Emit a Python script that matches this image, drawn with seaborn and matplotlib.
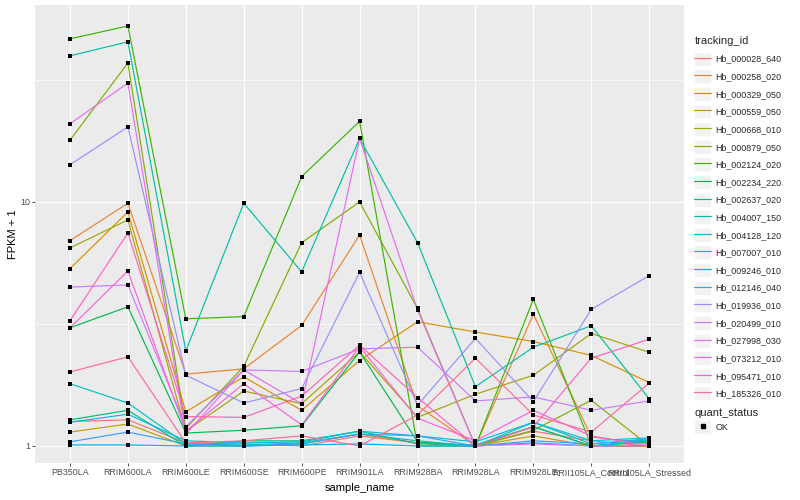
import numpy as np
import pandas as pd
import matplotlib
matplotlib.use('Agg')
import matplotlib.pyplot as plt
import seaborn as sns
from matplotlib.lines import Line2D
from matplotlib.patches import Rectangle
from matplotlib.legend_handler import HandlerLine2D
from matplotlib.ticker import FixedLocator, NullFormatter

samples = ['PB350LA', 'RRIM600LA', 'RRIM600LE', 'RRIM600SE', 'RRIM600PE', 'RRIM901LA',
           'RRIM928BA', 'RRIM928LA', 'RRIM928LE', 'RRII105LA_Control', 'RRII105LA_Stressed']

genes = ['Hb_000028_640', 'Hb_000258_020', 'Hb_000329_050', 'Hb_000559_050', 'Hb_000668_010',
         'Hb_000879_050', 'Hb_002124_020', 'Hb_002234_220', 'Hb_002637_020', 'Hb_004007_150',
         'Hb_004128_120', 'Hb_007007_010', 'Hb_009246_010', 'Hb_012146_040', 'Hb_019936_010',
         'Hb_020499_010', 'Hb_027998_030', 'Hb_073212_010', 'Hb_095471_010', 'Hb_185326_010']

# FPKM + 1 per gene, one value per sample
v_000028 = [1.26, 1.28, 1.03, 1.02, 1.00, 1.10, 1.03, 1.00, 1.15, 1.05, 1.00]
v_000258 = [6.94, 9.88, 1.97, 2.07, 3.12, 7.32, 1.46, 1.00, 3.47, 1.09, 1.02]
v_000329 = [5.33, 9.10, 1.38, 1.92, 1.40, 2.24, 3.23, 2.93, 2.68, 2.35, 1.82]
v_000559 = [1.14, 1.23, 1.00, 1.00, 1.02, 1.12, 1.03, 1.00, 1.10, 1.00, 1.00]
v_000668 = [6.48, 8.44, 1.15, 1.68, 1.49, 2.43, 1.31, 1.63, 1.95, 2.89, 2.42]
v_000879 = [17.9, 37.1, 1.18, 2.12, 6.81, 10.0, 3.66, 1.00, 1.16, 1.54, 1.00]
v_002124 = [46.6, 52.6, 3.32, 3.39, 12.7, 21.4, 1.00, 1.00, 3.99, 1.00, 1.00]
v_002234 = [3.05, 3.72, 1.13, 1.16, 1.21, 2.43, 1.04, 1.00, 1.20, 1.00, 1.05]
v_002637 = [1.28, 1.40, 1.00, 1.05, 1.05, 1.15, 1.02, 1.01, 1.20, 1.00, 1.04]
v_004007 = [39.7, 45.3, 2.45, 9.88, 5.17, 18.2, 6.81, 1.75, 2.54, 3.11, 1.56]
v_004128 = [1.80, 1.50, 1.02, 1.01, 1.03, 1.12, 1.05, 1.00, 1.25, 1.02, 1.06]
v_007007 = [1.25, 1.35, 1.05, 1.03, 1.04, 1.15, 1.10, 1.04, 1.25, 1.05, 1.08]
v_009246 = [1.01, 1.01, 1.00, 1.00, 1.01, 1.02, 1.00, 1.00, 1.03, 1.00, 1.05]
v_012146 = [1.04, 1.14, 1.02, 1.00, 1.02, 1.12, 1.10, 1.00, 1.05, 1.02, 1.07]
v_019936 = [14.2, 20.3, 1.95, 1.50, 1.72, 5.15, 1.47, 2.76, 1.52, 3.63, 4.99]
v_020499 = [4.48, 4.57, 1.20, 2.05, 2.02, 2.50, 2.54, 1.53, 1.59, 1.40, 1.53]
v_027998 = [20.9, 30.7, 1.12, 2.05, 1.49, 18.2, 3.61, 1.00, 1.02, 1.00, 1.00]
v_073212 = [3.05, 5.21, 1.15, 1.80, 1.22, 2.55, 1.30, 1.05, 1.40, 1.10, 1.00]
v_095471 = [3.26, 7.46, 1.32, 1.31, 1.60, 2.59, 1.58, 1.00, 1.20, 2.29, 2.74]
v_185326 = [2.01, 2.32, 1.03, 1.05, 1.10, 1.00, 1.34, 2.29, 1.34, 1.14, 1.81]

values = [v_000028, v_000258, v_000329, v_000559, v_000668, v_000879, v_002124, v_002234,
          v_002637, v_004007, v_004128, v_007007, v_009246, v_012146, v_019936, v_020499,
          v_027998, v_073212, v_095471, v_185326]

# ggplot2 default hue palette, 20 levels
colors = ['#F8766D', '#EA8331', '#D89000', '#C09B00', '#A3A500', '#7CAE00', '#39B600',
          '#00BB4E', '#00BF7D', '#00C1A3', '#00BFC4', '#00BAE0', '#00B0F6', '#35A2FF',
          '#9590FF', '#C77CFF', '#E76BF3', '#FA62DB', '#FF62BC', '#FF6C91']

rows = []
for g, vals in zip(genes, values):
    for s, v in zip(samples, vals):
        rows.append((g, s, v, 'OK'))
df = pd.DataFrame(rows, columns=['tracking_id', 'sample_name', 'fpkm1', 'quant_status'])

sns.set_theme(style='darkgrid')
plt.rcParams['font.family'] = ['Liberation Sans', 'DejaVu Sans']
plt.rcParams['axes.facecolor'] = '#EBEBEB'

fig = plt.figure(figsize=(8, 5), dpi=100)
ax = fig.add_axes([0.044, 0.074, 0.811, 0.916])

sns.lineplot(data=df, x='sample_name', y='fpkm1', hue='tracking_id', palette=colors,
             estimator=None, sort=False, linewidth=0.85, legend=False, ax=ax)
sns.scatterplot(data=df, x='sample_name', y='fpkm1', color='black', marker='s', s=7,
                linewidth=0, legend=False, ax=ax, zorder=5)

ax.set_yscale('log')
ax.set_ylim(10 ** -0.0697, 10 ** 1.807)
ax.set_xlim(-0.6, len(samples) - 0.4)
ax.yaxis.set_major_locator(FixedLocator([1, 10]))
ax.yaxis.set_minor_locator(FixedLocator([10 ** 0.5, 10 ** 1.5]))
ax.yaxis.set_minor_formatter(NullFormatter())
ax.set_yticklabels(['1', '10'])

ax.grid(which='major', color='white', linewidth=0.8)
ax.grid(which='minor', axis='y', color='white', linewidth=0.45)
for sp in ax.spines.values():
    sp.set_visible(False)
ax.tick_params(axis='both', which='major', length=2.2, width=0.6, color='#333333',
               labelsize=6.4, labelcolor='#4D4D4D', pad=1.5, bottom=True, left=True)
ax.tick_params(axis='y', which='minor', length=0)

ax.set_xlabel('sample_name', fontsize=8, color='black')
ax.set_ylabel('FPKM + 1', fontsize=8, color='black')
ax.xaxis.set_label_coords(0.5, -0.043)
ax.yaxis.set_label_coords(-0.027, 0.5)


class KeyHandler(HandlerLine2D):
    def create_artists(self, legend, orig_handle, xdescent, ydescent, width, height, fontsize, trans):
        bg = Rectangle((-xdescent, -ydescent - 0.2 * height), width, height * 1.4,
                       facecolor='#F2F2F2', edgecolor='white', linewidth=0.6, transform=trans)
        arts = super().create_artists(legend, orig_handle, xdescent, ydescent, width, height,
                                      fontsize, trans)
        return [bg] + arts


handles = [Line2D([], [], color=c, linewidth=0.85) for c in colors]
leg1 = fig.legend(handles, genes, title='tracking_id', loc='upper left',
                  bbox_to_anchor=(0.868, 0.928), frameon=False, fontsize=6.4,
                  title_fontsize=8, handlelength=1.9, handleheight=1.35, labelspacing=0.86,
                  handletextpad=0.45, borderpad=0, borderaxespad=0, alignment='left',
                  handler_map={Line2D: KeyHandler()})

ok_handle = [Line2D([], [], color='black', marker='s', markersize=2.6, linestyle='none')]
leg2 = fig.legend(ok_handle, ['OK'], title='quant_status', loc='upper left',
                  bbox_to_anchor=(0.868, 0.184), frameon=False, fontsize=6.4,
                  title_fontsize=8, handlelength=1.9, handleheight=1.35,
                  handletextpad=0.45, borderpad=0, borderaxespad=0, alignment='left',
                  handler_map={Line2D: KeyHandler()})

fig.savefig('out.png', dpi=100)
